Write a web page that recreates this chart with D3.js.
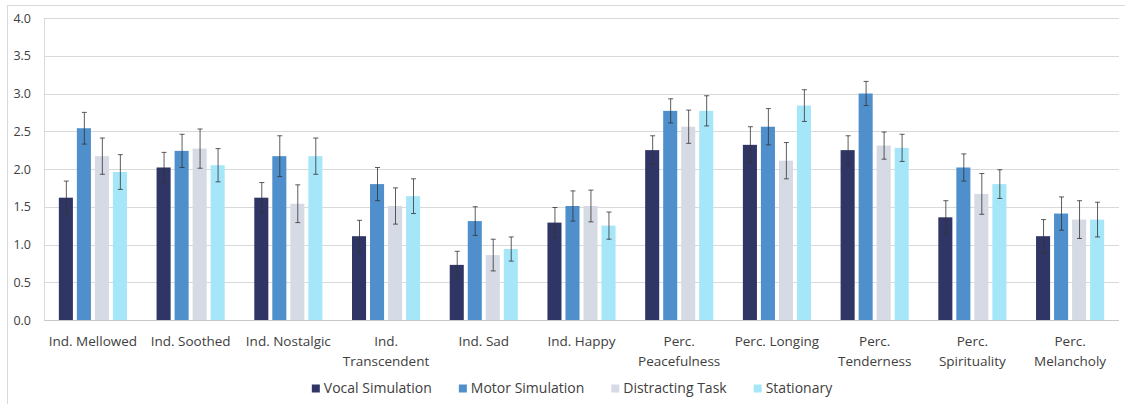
<!DOCTYPE html>
<html>
<head>
<meta charset="utf-8">
<script src="https://cdn.jsdelivr.net/npm/d3@7"></script>
<style>
  body { margin: 0; background: #fff; }
  svg { display: block; }
  text { font-family: "Open Sans", "Noto Sans", sans-serif; fill: #404040; }
</style>
</head>
<body>
<svg id="chart" width="1125" height="404"></svg>
<script>
// categories (x axis, two-line labels split by "|")
const categories = ["Ind. Mellowed", "Ind. Soothed", "Ind. Nostalgic", "Ind.|Transcendent", "Ind. Sad",
  "Ind. Happy", "Perc.|Peacefulness", "Perc. Longing", "Perc.|Tenderness", "Perc.|Spirituality", "Perc.|Melancholy"];
const series = ["Vocal Simulation", "Motor Simulation", "Distracting Task", "Stationary"];
const colors = ["#2f3666", "#4f8fcb", "#d5dae4", "#a6e6f9"];

// means per series, in category order
const vocal       = [1.62, 2.02, 1.62, 1.11, 0.73, 1.29, 2.25, 2.32, 2.25, 1.36, 1.11];
const motor       = [2.54, 2.24, 2.17, 1.80, 1.31, 1.51, 2.77, 2.56, 3.00, 2.02, 1.41];
const distracting = [2.17, 2.27, 1.54, 1.51, 0.86, 1.51, 2.56, 2.11, 2.31, 1.67, 1.33];
const stationary  = [1.96, 2.05, 2.17, 1.64, 0.94, 1.25, 2.77, 2.84, 2.28, 1.80, 1.33];

// error bar half-widths
const vocalErr       = [0.22, 0.20, 0.20, 0.21, 0.18, 0.20, 0.19, 0.24, 0.19, 0.22, 0.22];
const motorErr       = [0.21, 0.22, 0.27, 0.22, 0.19, 0.20, 0.16, 0.24, 0.16, 0.18, 0.22];
const distractingErr = [0.24, 0.26, 0.25, 0.24, 0.21, 0.21, 0.22, 0.24, 0.18, 0.27, 0.25];
const stationaryErr  = [0.23, 0.22, 0.24, 0.23, 0.16, 0.18, 0.20, 0.21, 0.18, 0.19, 0.23];

const yTicks = [0, 0.5, 1, 1.5, 2, 2.5, 3, 3.5, 4];

const values = [vocal, motor, distracting, stationary];
const errors = [vocalErr, motorErr, distractingErr, stationaryErr];

const svg = d3.select("#chart");
const plot = {left: 44, right: 1119, top: 18, bottom: 320};

// outer chart border
svg.append("rect")
  .attr("x", 7.5).attr("y", 5.5)
  .attr("width", 1125).attr("height", 420)
  .attr("fill", "none").attr("stroke", "#d9d9d9");

const x0 = d3.scaleBand()
  .domain(categories)
  .range([plot.left, plot.right])
  .paddingInner(0.303)
  .paddingOuter(0.152);

const x1 = d3.scaleBand()
  .domain(series)
  .range([0, x0.bandwidth()])
  .paddingInner(0.22);

const y = d3.scaleLinear()
  .domain([0, 4])
  .range([plot.bottom, plot.top]);

// gridlines
svg.append("g")
  .selectAll("line")
  .data(yTicks.slice(1))
  .join("line")
  .attr("x1", plot.left).attr("x2", plot.right)
  .attr("y1", d => Math.round(y(d)) + 0.5).attr("y2", d => Math.round(y(d)) + 0.5)
  .attr("stroke", "#d9d9d9");

// left axis line
svg.append("line")
  .attr("x1", plot.left + 0.5).attr("x2", plot.left + 0.5)
  .attr("y1", plot.top).attr("y2", plot.bottom)
  .attr("stroke", "#d9d9d9");

// y axis labels
const yAxis = svg.append("g")
  .attr("transform", `translate(${plot.left},0)`)
  .call(d3.axisLeft(y).tickValues(yTicks).tickFormat(d3.format(".1f")).tickSize(0).tickPadding(13));
yAxis.select(".domain").remove();
yAxis.selectAll("text")
  .style("font-size", "12.5px")
  .style("font-family", "'Open Sans', sans-serif")
  .attr("fill", "#404040");

// bars
const groups = svg.append("g")
  .selectAll("g")
  .data(categories)
  .join("g")
  .attr("transform", d => `translate(${x0(d)},0)`);

groups.each(function(cat, ci) {
  const g = d3.select(this);
  series.forEach((s, si) => {
    const v = values[si][ci];
    const e = errors[si][ci];
    const bx = x1(s);
    g.append("rect")
      .attr("x", bx).attr("y", y(v))
      .attr("width", x1.bandwidth()).attr("height", y(0) - y(v))
      .attr("fill", colors[si]);
    const cx = Math.round(bx + x1.bandwidth() / 2) + 0.5;
    g.append("line")
      .attr("x1", cx).attr("x2", cx)
      .attr("y1", y(v + e)).attr("y2", y(v - e))
      .attr("stroke", "#333").attr("stroke-width", 0.8);
    [v + e, v - e].forEach(t => {
      g.append("line")
        .attr("x1", cx - 2.5).attr("x2", cx + 2.5)
        .attr("y1", y(t)).attr("y2", y(t))
        .attr("stroke", "#333").attr("stroke-width", 0.8);
    });
  });
});

// x baseline
svg.append("line")
  .attr("x1", plot.left).attr("x2", plot.right)
  .attr("y1", plot.bottom + 0.5).attr("y2", plot.bottom + 0.5)
  .attr("stroke", "#c8c8c8");

// x labels
const xl = svg.append("g");
categories.forEach(c => {
  const lines = c.split("|");
  const t = xl.append("text")
    .attr("x", x0(c) + x0.bandwidth() / 2)
    .attr("y", 346)
    .attr("text-anchor", "middle")
    .style("font-size", "13.5px");
  lines.forEach((ln, i) => {
    t.append("tspan")
      .attr("x", x0(c) + x0.bandwidth() / 2)
      .attr("dy", i === 0 ? 0 : 19.5)
      .text(ln);
  });
});

// legend
const legend = svg.append("g");
let lx = 0;
series.forEach((s, i) => {
  const it = legend.append("g").attr("transform", `translate(${lx},0)`);
  it.append("rect").attr("x", 0).attr("y", -8.5).attr("width", 8).attr("height", 8).attr("fill", colors[i]);
  const tx = it.append("text").attr("x", 12).attr("y", 0).style("font-size", "14px").text(s);
  const w = tx.node().getComputedTextLength();
  lx += 12 + w + 27;
});
const totalW = lx - 27;
legend.attr("transform", `translate(${572 - totalW / 2},393)`);
</script>
</body>
</html>
